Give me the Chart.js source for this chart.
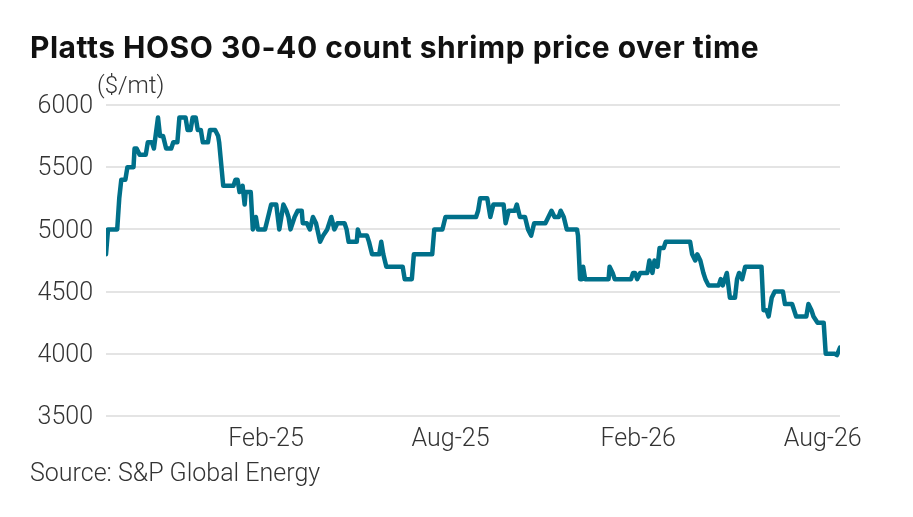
<!DOCTYPE html>
<html>
<head>
<meta charset="utf-8">
<script src="https://cdn.jsdelivr.net/npm/chart.js@4"></script>
<style>
html,body{margin:0;padding:0;background:#fff;}
#wrap{position:relative;width:913px;height:517px;overflow:hidden;font-family:Roboto,"Noto Sans",sans-serif;}
#title{position:absolute;left:30px;top:32px;font-family:Inter,Roboto,sans-serif;font-size:30px;font-weight:700;color:#111;white-space:nowrap;line-height:1;letter-spacing:0.5px;}
#unit{position:absolute;left:97px;top:73px;font-size:24px;font-weight:300;color:#333;line-height:1;}
#source{position:absolute;left:30px;top:460px;font-size:25px;font-weight:300;color:#333;line-height:1;white-space:nowrap;}
canvas{position:absolute;left:0;top:0;}
</style>
</head>
<body>
<div id="wrap">
<canvas id="c" width="913" height="517"></canvas>
<div id="title">Platts HOSO 30-40 count shrimp price over time</div>
<div id="unit">($/mt)</div>
<div id="source">Source: S&amp;P Global Energy</div>
</div>
<script>
const startDate = '2024-08-28';
const dayOffsets = [0,2,11,13,15,19,21,27,28,30,33,39,41,45,47,51,53,56,59,64,66,70,72,78,80,83,85,88,90,93,95,100,102,107,110,111,115,125,127,129,131,134,136,137,142,144,147,149,156,159,162,167,170,174,177,179,181,185,188,192,193,197,200,203,206,210,213,217,221,224,227,234,236,238,246,247,249,256,258,261,268,270,272,275,291,293,300,302,320,322,330,333,363,365,367,374,377,380,390,392,395,401,403,406,411,414,417,420,431,434,437,440,444,446,449,452,462,463,465,467,468,470,493,494,497,499,515,517,519,521,524,531,533,536,538,541,543,547,549,573,575,578,580,583,586,588,591,601,603,605,609,612,617,619,621,624,627,643,645,648,650,653,656,664,666,673,675,677,687,689,692,694,698,704,706,715,717,720];
const prices = [4800,5000,5000,5250,5400,5400,5500,5500,5650,5650,5600,5600,5700,5700,5650,5900,5750,5750,5650,5650,5700,5700,5900,5900,5800,5800,5900,5900,5800,5800,5700,5700,5800,5800,5750,5700,5350,5350,5400,5400,5300,5350,5200,5300,5300,5000,5100,5000,5000,5100,5200,5200,5000,5200,5150,5100,5000,5100,5150,5150,5050,5050,5000,5100,5050,4900,4950,5000,5100,5000,5050,5050,5000,4900,4900,5000,4950,4950,4900,4800,4800,4900,4800,4700,4700,4600,4600,4800,4800,5000,5000,5100,5100,5150,5250,5250,5100,5200,5200,5050,5150,5150,5200,5100,5100,5000,4950,5050,5050,5100,5150,5100,5100,5150,5100,5000,5000,4950,4600,4600,4700,4600,4600,4700,4650,4600,4600,4650,4650,4600,4650,4650,4750,4650,4750,4700,4850,4850,4900,4900,4800,4750,4800,4750,4650,4600,4550,4550,4600,4550,4650,4450,4450,4600,4650,4600,4700,4700,4350,4350,4300,4450,4500,4500,4400,4400,4350,4300,4300,4400,4350,4300,4250,4250,4000,4000,3990,4050];
const tickDates = ['2025-02-01','2025-08-01','2026-02-01','2026-08-01'];
const tickLabels = ['Feb-25','Aug-25','Feb-26','Aug-26'];
const yTicks = [3500,4000,4500,5000,5500,6000];

const DAY = 86400000;
const t0 = Date.parse(startDate);
const tickPos = tickDates.map(d => Math.round((Date.parse(d) - t0) / DAY));
const points = dayOffsets.map((d, i) => ({x: d, y: prices[i]}));
const FONT = 'Roboto, "Noto Sans", sans-serif';

new Chart(document.getElementById('c'), {
  type: 'line',
  data: {datasets: [{
    data: points,
    borderColor: '#00708a',
    borderWidth: 4.5,
    pointRadius: 0,
    tension: 0,
    fill: false,
    borderJoinStyle: 'round',
    borderCapStyle: 'round'
  }]},
  options: {
    responsive: false,
    animation: false,
    layout: {padding: {top: 105, left: 0, right: 73, bottom: 0}},
    plugins: {legend: {display: false}, tooltip: {enabled: false}, title: {display: false}},
    scales: {
      x: {
        type: 'linear',
        min: dayOffsets[0],
        max: dayOffsets[dayOffsets.length - 1],
        grid: {display: false, drawTicks: false},
        border: {display: false},
        afterBuildTicks: s => { s.ticks = tickPos.map(v => ({value: v})); },
        afterFit: s => { s.height = 101; },
        ticks: {
          autoSkip: false, maxRotation: 0, minRotation: 0,
          callback: v => tickLabels[tickPos.indexOf(v)],
          font: {family: FONT, size: 25, weight: 300},
          color: '#333',
          padding: 9
        }
      },
      y: {
        min: 3500, max: 6000,
        grid: {color: '#e4e4e4', lineWidth: 2, drawTicks: false},
        border: {display: false},
        afterBuildTicks: s => { s.ticks = yTicks.map(v => ({value: v})); },
        afterFit: s => { s.width = 106; },
        ticks: {
          callback: v => String(v),
          font: {family: FONT, size: 25, weight: 300},
          color: '#333',
          padding: 13,
          labelOffset: 2
        }
      }
    }
  }
});
</script>
</body>
</html>
